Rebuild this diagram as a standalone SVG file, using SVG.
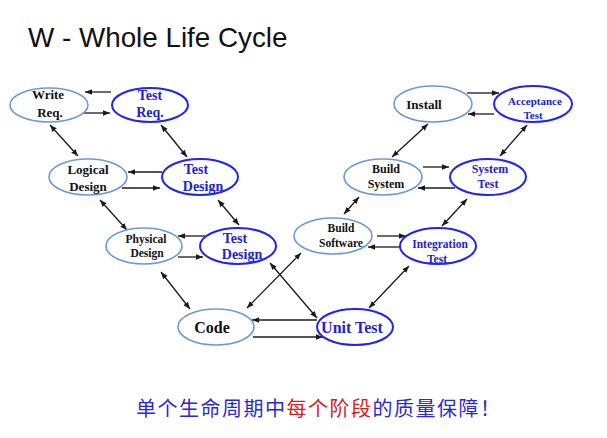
<svg xmlns="http://www.w3.org/2000/svg" width="607" height="438" viewBox="0 0 607 438">
<style>
.n ellipse{fill:#fff;stroke-width:1.6}
.d ellipse{stroke:#6c9bd2}
.t ellipse{stroke:#2424f0;stroke-width:2}
.n text{font-family:"Liberation Serif",serif;font-weight:bold;text-anchor:middle}
.d text{fill:#111}
.t text{fill:#2222cc}
#conn line{stroke:#1a1a1a;stroke-width:1.3}
.s{marker-end:url(#ah)}
.b{marker-start:url(#as);marker-end:url(#ah)}
</style>
<defs>
<marker id="ah" viewBox="0 0 10 10" refX="10" refY="5" markerWidth="7" markerHeight="7" orient="auto" markerUnits="userSpaceOnUse"><path d="M0,1 L10,5 L0,9 z" fill="#1a1a1a"/></marker>
<marker id="as" viewBox="0 0 10 10" refX="0" refY="5" markerWidth="7" markerHeight="7" orient="auto" markerUnits="userSpaceOnUse"><path d="M10,1 L0,5 L10,9 z" fill="#1a1a1a"/></marker>
</defs>
<rect width="607" height="438" fill="#fff"/>
<text x="28" y="47" font-family="Liberation Sans,Arial,sans-serif" font-size="27.8" fill="#111">W - Whole Life Cycle</text>

<g id="conn">
<line class="s" x1="111" y1="92" x2="85" y2="92"/>
<line class="s" x1="83" y1="113" x2="110" y2="113"/>
<line class="b" x1="50" y1="125" x2="78" y2="156"/>
<line class="b" x1="161" y1="125" x2="187" y2="157"/>
<line class="s" x1="162" y1="172" x2="128" y2="172"/>
<line class="s" x1="122" y1="188" x2="160" y2="188"/>
<line class="b" x1="100" y1="200" x2="127" y2="230"/>
<line class="b" x1="218" y1="200" x2="239" y2="225"/>
<line class="s" x1="205" y1="236" x2="178" y2="236"/>
<line class="s" x1="178" y1="257" x2="203" y2="257"/>
<line class="b" x1="161" y1="272" x2="190" y2="309"/>
<line class="s" x1="317" y1="320" x2="252" y2="320"/>
<line class="s" x1="253" y1="337" x2="323" y2="337"/>
<line class="b" x1="247" y1="308" x2="301" y2="253"/>
<line class="b" x1="270" y1="263" x2="317" y2="318"/>
<line class="b" x1="369" y1="308" x2="409" y2="266"/>
<line class="s" x1="377" y1="236" x2="406" y2="236"/>
<line class="s" x1="400" y1="247" x2="368" y2="247"/>
<line class="b" x1="344" y1="214" x2="359" y2="197"/>
<line class="b" x1="442" y1="226" x2="467" y2="199"/>
<line class="s" x1="423" y1="167" x2="449" y2="167"/>
<line class="s" x1="455" y1="188" x2="418" y2="188"/>
<line class="b" x1="392" y1="157" x2="428" y2="124"/>
<line class="b" x1="500" y1="156" x2="527" y2="125"/>
<line class="s" x1="467" y1="93" x2="499" y2="93"/>
<line class="s" x1="494" y1="114" x2="468" y2="114"/>
</g>

<g id="write-req" class="n d"><ellipse cx="49" cy="105" rx="39" ry="17"/><text font-size="13" x="48" y="99">Write</text><text font-size="13" x="50" y="117">Req.</text></g>
<g id="test-req" class="n t"><ellipse cx="150" cy="105" rx="38" ry="17"/><text font-size="14" x="150" y="100">Test</text><text font-size="14" x="150" y="117">Req.</text></g>
<g id="logical-design" class="n d"><ellipse cx="88" cy="177" rx="39" ry="18"/><text font-size="13" x="88" y="174">Logical</text><text font-size="13" x="88" y="191">Design</text></g>
<g id="test-design-1" class="n t"><ellipse cx="200" cy="177" rx="38" ry="18"/><text font-size="14" x="196" y="174">Test</text><text font-size="14" x="203" y="191">Design</text></g>
<g id="physical-design" class="n d"><ellipse cx="144" cy="246" rx="38" ry="18"/><text font-size="11.5" x="146" y="243">Physical</text><text font-size="11.5" x="147" y="257">Design</text></g>
<g id="test-design-2" class="n t"><ellipse cx="238" cy="246" rx="38" ry="18"/><text font-size="14" x="235" y="243">Test</text><text font-size="14" x="242" y="259">Design</text></g>
<g id="code" class="n d"><ellipse cx="216" cy="327" rx="38" ry="18"/><text font-size="16" x="212" y="333">Code</text></g>
<g id="unit-test" class="n t"><ellipse cx="355" cy="327" rx="38" ry="18"/><text font-size="16" x="352" y="333">Unit Test</text></g>
<g id="build-software" class="n d"><ellipse cx="333" cy="236" rx="39" ry="18"/><text font-size="11.5" x="341" y="232">Build</text><text font-size="11.5" x="341" y="247">Software</text></g>
<g id="integration-test" class="n t"><ellipse cx="438" cy="246" rx="38" ry="18"/><text font-size="11.5" x="440" y="248">Integration</text><text font-size="11.5" x="437" y="263">Test</text></g>
<g id="build-system" class="n d"><ellipse cx="383" cy="177" rx="39" ry="18"/><text font-size="12" x="386" y="173">Build</text><text font-size="12" x="386" y="188">System</text></g>
<g id="system-test" class="n t"><ellipse cx="488" cy="177" rx="38" ry="18"/><text font-size="12" x="490" y="173">System</text><text font-size="12" x="488" y="188">Test</text></g>
<g id="install" class="n d"><ellipse cx="433" cy="104" rx="39" ry="18"/><text font-size="13" x="424" y="109">Install</text></g>
<g id="acceptance-test" class="n t"><ellipse cx="533" cy="104" rx="39" ry="18"/><text font-size="11" x="535" y="105">Acceptance</text><text font-size="11" x="533" y="119">Test</text></g>

<text x="136" y="416" font-family="Noto Sans CJK SC,sans-serif" font-size="20" letter-spacing="1.5" fill="#2a2ad0">单个生命周期中<tspan fill="#d42020">每个阶段</tspan>的质量保障！</text>
</svg>
